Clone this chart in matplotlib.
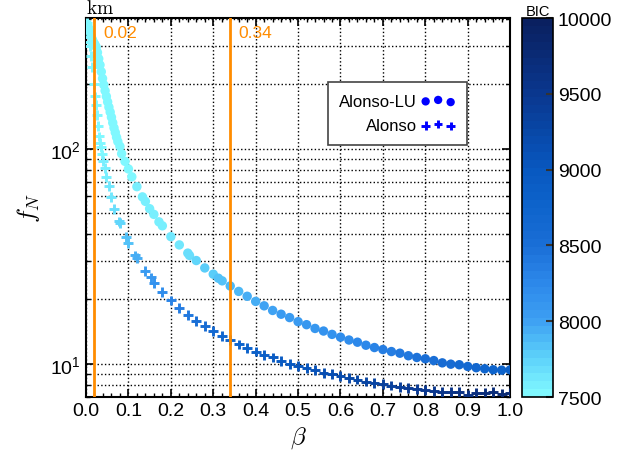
import numpy as np
import matplotlib
matplotlib.use("Agg")
import matplotlib.pyplot as plt
from matplotlib.colors import LinearSegmentedColormap, Normalize
from matplotlib.ticker import FixedLocator, FixedFormatter, NullFormatter

plt.rcParams['font.family'] = ['Liberation Sans', 'DejaVu Sans']
plt.rcParams['mathtext.fontset'] = 'cm'

# Alonso-LU (circles)
beta_lu = [0.003, 0.006, 0.009, 0.012, 0.015, 0.018, 0.021, 0.024, 0.027, 0.030,
           0.033, 0.036, 0.039, 0.042, 0.045, 0.048, 0.051, 0.054, 0.057, 0.060,
           0.063, 0.066, 0.069, 0.072, 0.075, 0.080, 0.084, 0.092, 0.100, 0.108,
           0.120, 0.133, 0.140, 0.150, 0.160, 0.172, 0.180, 0.200, 0.220, 0.240,
           0.244, 0.260, 0.280, 0.300, 0.312, 0.321, 0.34, 0.36, 0.38, 0.40,
           0.42, 0.44, 0.46, 0.48, 0.50, 0.52, 0.54, 0.56, 0.58, 0.60,
           0.62, 0.64, 0.66, 0.68, 0.70, 0.72, 0.74, 0.76, 0.78, 0.80,
           0.82, 0.84, 0.86, 0.88, 0.90, 0.92, 0.94, 0.96, 0.98, 1.00]
f_lu = [380, 365, 350, 335, 322, 312, 305, 297, 280, 262,
        245, 228, 212, 198, 186, 175, 165, 156, 148, 140,
        132, 125, 119, 113, 108, 102.5, 94.8, 87.3, 80.5, 74.0,
        66.6, 59.7, 56.9, 52.6, 49.5, 45.7, 43.8, 39.0, 35.7, 32.7,
        31.9, 30.2, 27.9, 26.1, 25.0, 24.3, 23.0, 21.7, 20.6, 19.5,
        18.6, 17.7, 17.0, 16.4, 15.7, 15.2, 14.6, 14.2, 13.7, 13.3,
        12.9, 12.6, 12.2, 11.9, 11.65, 11.4, 11.2, 10.9, 10.7, 10.55,
        10.35, 10.1, 9.96, 9.9, 9.72, 9.59, 9.48, 9.38, 9.34, 9.37]
bic_lu = [7500, 7500, 7500, 7500, 7500, 7500, 7500, 7500, 7500, 7505,
          7505, 7505, 7510, 7510, 7510, 7515, 7515, 7515, 7520, 7520,
          7520, 7525, 7525, 7525, 7530, 7530, 7535, 7540, 7545, 7550,
          7555, 7560, 7565, 7570, 7575, 7580, 7590, 7610, 7640, 7690,
          7700, 7730, 7770, 7800, 7820, 7840, 7870, 7900, 7930, 7960,
          7990, 8010, 8030, 8050, 8070, 8090, 8110, 8130, 8160, 8190,
          8220, 8250, 8280, 8310, 8340, 8370, 8400, 8430, 8460, 8490,
          8520, 8550, 8580, 8610, 8640, 8680, 8720, 8760, 8800, 8850]

# Alonso (plus)
beta_a = [0.002, 0.004, 0.006, 0.008, 0.0094, 0.012, 0.015, 0.019, 0.022, 0.024,
          0.026, 0.028, 0.031, 0.033, 0.0354, 0.0377, 0.041, 0.044, 0.048, 0.0535,
          0.0597, 0.0668, 0.0778, 0.080, 0.0943, 0.0998, 0.1156, 0.121, 0.140, 0.1525,
          0.16, 0.18, 0.20, 0.22, 0.24, 0.26, 0.28, 0.30, 0.32, 0.34,
          0.36, 0.38, 0.40, 0.42, 0.44, 0.46, 0.48, 0.50, 0.52, 0.54,
          0.56, 0.58, 0.60, 0.62, 0.64, 0.66, 0.68, 0.70, 0.72, 0.74,
          0.76, 0.78, 0.80, 0.82, 0.84, 0.86, 0.88, 0.90, 0.92, 0.94,
          0.96, 0.98, 1.00]
f_a = [385, 355, 330, 312, 300, 270, 240, 200, 175, 160,
       143, 128, 114, 106, 102, 94, 87.7, 81, 73.9, 66.9,
       59.7, 52.6, 45.9, 45.2, 38.9, 36.5, 31.9, 31.0, 27.1, 25.2,
       23.8, 21.6, 19.7, 18.2, 16.9, 15.8, 15.0, 14.2, 13.5, 12.9,
       12.3, 11.8, 11.4, 11.0, 10.7, 10.3, 10.0, 9.75, 9.6, 9.34,
       9.1, 8.93, 8.75, 8.57, 8.45, 8.27, 8.15, 8.03, 7.92, 7.8,
       7.72, 7.63, 7.55, 7.47, 7.39, 7.37, 7.39, 7.15, 7.35, 7.35,
       7.39, 7.25, 7.3]
bic_a = [7500, 7500, 7500, 7500, 7505, 7505, 7505, 7510, 7510, 7515,
         7515, 7520, 7525, 7530, 7540, 7550, 7560, 7580, 7600, 7620,
         7650, 7690, 7740, 7750, 7820, 7850, 7930, 7960, 8050, 8100,
         8140, 8220, 8300, 8370, 8430, 8490, 8550, 8600, 8650, 8700,
         8750, 8790, 8830, 8870, 8910, 8950, 8990, 9030, 9060, 9100,
         9130, 9160, 9190, 9220, 9250, 9280, 9310, 9340, 9370, 9400,
         9430, 9460, 9490, 9520, 9550, 9580, 9600, 9630, 9660, 9690,
         9710, 9740, 9760]

vlines = [0.02, 0.34]
cbar_ticks = [7500, 8000, 8500, 9000, 9500, 10000]

cmap = LinearSegmentedColormap.from_list(
    "bic",
    [(0.0, "#80f8ff"), (0.1, "#5cd0fa"), (0.2, "#3c9ef2"), (0.3, "#2c88ea"),
     (0.4, "#1a6ed6"), (0.5, "#0e64cc"), (0.6, "#0858c0"), (0.7, "#0848a8"),
     (0.8, "#0a3890"), (0.9, "#0a2c78"), (1.0, "#0a2060")], N=48)
norm = Normalize(vmin=7500, vmax=10000)

fig = plt.figure(figsize=(6.21, 4.64), dpi=100)
ax = fig.add_axes([0.1385, 0.142, 0.683, 0.817])
cax = fig.add_axes([0.8406, 0.142, 0.05, 0.817])

ax.scatter(beta_lu, f_lu, c=bic_lu, cmap=cmap, norm=norm, marker='o', s=46,
           linewidths=0, zorder=3)
ax.scatter(beta_a, f_a, c=bic_a, cmap=cmap, norm=norm, marker='+', s=50,
           linewidths=2.1, zorder=3)

for v in vlines:
    ax.axvline(v, color='#ff8c00', lw=2, zorder=4)
    ax.text(v + 0.02, 0.962, "%.2f" % v, transform=ax.get_xaxis_transform(),
            color='#ff8c00', fontsize=12.5, va='center', ha='left')

ax.set_yscale('log')
ax.set_xlim(0, 1)
ax.set_ylim(7.0, 405)
ax.set_xticks(np.arange(0, 1.01, 0.1))
ax.set_xticklabels(["%.1f" % t for t in np.arange(0, 1.01, 0.1)])
ax.xaxis.set_minor_locator(FixedLocator(np.arange(0, 1.001, 0.02)))
ax.yaxis.set_major_locator(FixedLocator([10, 100]))
ax.yaxis.set_major_formatter(FixedFormatter([r'$\mathregular{10^1}$', r'$\mathregular{10^2}$']))
ax.yaxis.set_minor_locator(FixedLocator([7, 8, 9, 20, 30, 40, 50, 60, 70, 80, 90, 200, 300, 400]))
ax.yaxis.set_minor_formatter(NullFormatter())
ax.tick_params(which='both', direction='in', top=True, right=True, labelsize=14)
ax.tick_params(which='major', length=6, width=1.2)
ax.tick_params(which='minor', length=3, width=1)
ax.grid(True, which='major', axis='both', linestyle=':', color='k', lw=1)
ax.grid(True, which='minor', axis='y', linestyle=':', color='k', lw=1)
for sp in ax.spines.values():
    sp.set_linewidth(1.5)

ax.set_xlabel(r'$\beta$', fontsize=18, labelpad=4)
ax.set_ylabel(r'$f_N$', fontsize=18, labelpad=6)
ax.text(0.0, 1.003, r'$\mathrm{km}$', transform=ax.transAxes, fontsize=14,
        ha='left', va='bottom')

h1 = ax.scatter([], [], color='blue', marker='o', s=36, linewidths=0)
h2 = ax.scatter([], [], color='blue', marker='+', s=36, linewidths=2.1)
leg = ax.legend([h1, h2], ['Alonso-LU', 'Alonso'], loc='upper right',
                bbox_to_anchor=(0.899, 0.831), borderaxespad=0, markerfirst=False,
                scatterpoints=3, fontsize=12, fancybox=False, framealpha=1,
                edgecolor='#444444', handlelength=2.1, handletextpad=0.2,
                borderpad=0.7, labelspacing=0.55)
leg.get_frame().set_linewidth(1.2)
for t in leg.get_texts():
    t.set_ha('right')

sm = plt.cm.ScalarMappable(norm=norm, cmap=cmap)
cb = fig.colorbar(sm, cax=cax, ticks=cbar_ticks)
cb.ax.tick_params(direction='in', length=5, width=1.5, labelsize=14, color='#333333')
cb.outline.set_linewidth(1.2)
cb.ax.set_title('BIC', fontsize=10.5, pad=2)

fig.savefig("out.png", dpi=100)
